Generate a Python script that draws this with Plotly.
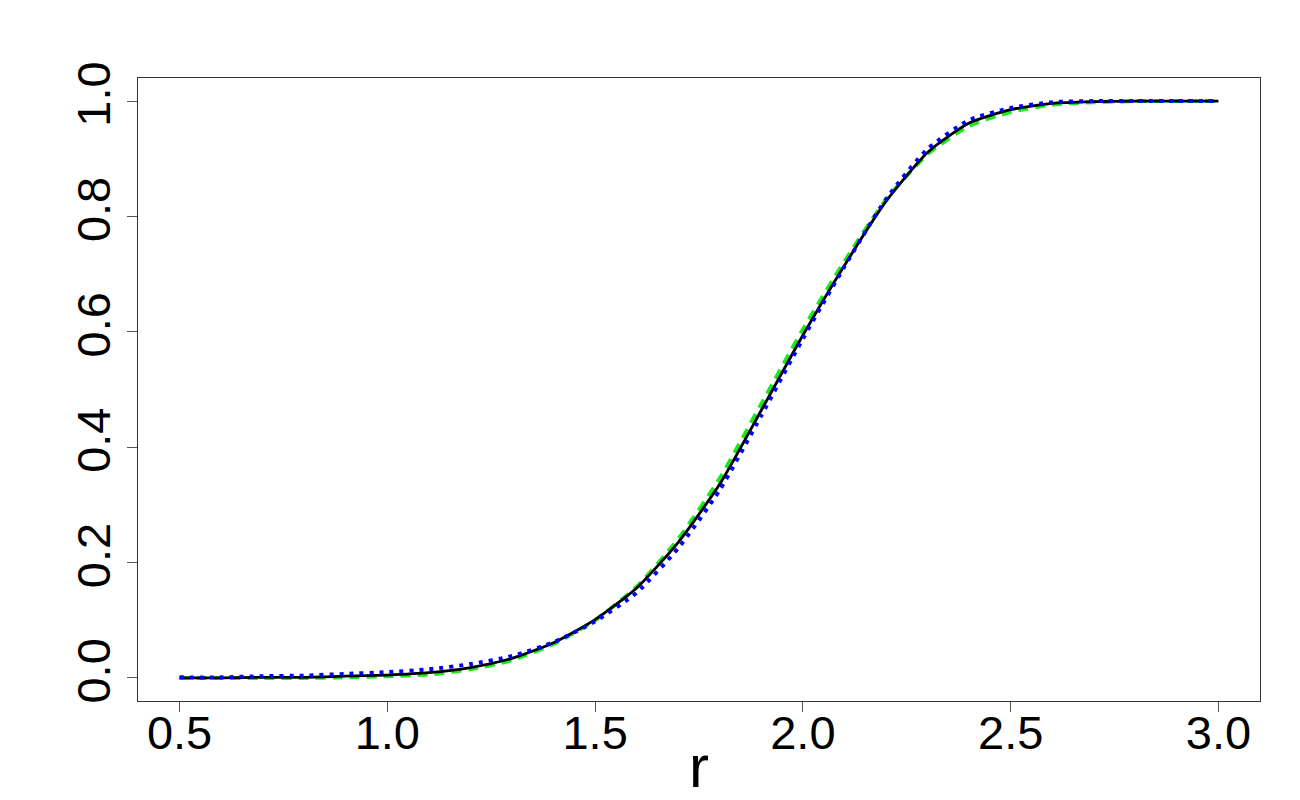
import plotly.graph_objects as go

# --- data ---
r_vals = [0.5, 0.6, 0.7, 0.8, 0.9, 1.0, 1.1, 1.2, 1.3, 1.4, 1.5, 1.6, 1.7,
          1.8, 1.9, 2.0, 2.1, 2.2, 2.3, 2.4, 2.5, 2.6, 2.7, 2.8, 2.9, 3.0]

cdf_black = [0.000, 0.000, 0.001, 0.001, 0.003, 0.005, 0.009, 0.018, 0.034, 0.061,
             0.101, 0.156, 0.235, 0.336, 0.464, 0.594, 0.715, 0.826, 0.911, 0.962,
             0.985, 0.996, 0.999, 1.000, 1.000, 1.000]

cdf_green = [0.000, 0.000, 0.000, 0.000, 0.001, 0.003, 0.006, 0.015, 0.031, 0.059,
             0.100, 0.158, 0.241, 0.346, 0.475, 0.604, 0.722, 0.829, 0.908, 0.957,
             0.981, 0.994, 0.998, 1.000, 1.000, 1.000]

cdf_blue = [0.001, 0.001, 0.003, 0.004, 0.007, 0.010, 0.015, 0.024, 0.038, 0.062,
            0.098, 0.148, 0.225, 0.326, 0.455, 0.588, 0.713, 0.830, 0.917, 0.967,
            0.988, 0.998, 1.000, 1.000, 1.000, 1.000]

x_ticks = [0.5, 1.0, 1.5, 2.0, 2.5, 3.0]
y_ticks = [0.0, 0.2, 0.4, 0.6, 0.8, 1.0]

font_family = "Liberation Sans, Arial, sans-serif"

fig = go.Figure()

# green dashed underneath, black solid, blue dotted on top
fig.add_trace(go.Scatter(x=r_vals, y=cdf_green, mode="lines",
                         line=dict(color="#1aea1a", width=4, dash="10px,7px",
                                   shape="spline", smoothing=0.6),
                         showlegend=False))
fig.add_trace(go.Scatter(x=r_vals, y=cdf_black, mode="lines",
                         line=dict(color="black", width=2.8,
                                   shape="spline", smoothing=0.6),
                         showlegend=False))
fig.add_trace(go.Scatter(x=r_vals, y=cdf_blue, mode="lines",
                         line=dict(color="#0000ff", width=4, dash="4px,6px",
                                   shape="spline", smoothing=0.6),
                         showlegend=False))

# page body has an 8px margin, so the figure is sized 1292x792
fig.update_layout(
    width=1292, height=792,
    paper_bgcolor="white", plot_bgcolor="white",
    margin=dict(l=130, r=40, t=70, b=99),
    font=dict(family=font_family, color="black"),
)

fig.update_xaxes(
    range=[0.4, 3.1], tickvals=x_ticks, ticktext=[f"{v:.1f}" for v in x_ticks],
    showgrid=False, zeroline=False, automargin=False,
    showline=True, mirror=True, linecolor="#333333", linewidth=1,
    ticks="outside", ticklen=10, tickcolor="#555555", tickwidth=1,
    tickfont=dict(size=47), ticklabelstandoff=-19,
    title=dict(text="r", font=dict(size=60), standoff=6),
)
fig.update_yaxes(
    range=[-0.04, 1.04], tickvals=y_ticks, ticktext=[f"{v:.1f}" for v in y_ticks],
    showgrid=False, zeroline=False, automargin=False,
    showline=True, mirror=True, linecolor="#333333", linewidth=1,
    ticks="outside", ticklen=10, tickcolor="#555555", tickwidth=1,
    tickfont=dict(size=47), tickangle=-90, ticklabelstandoff=-2,
)

fig.write_html("out.html")
